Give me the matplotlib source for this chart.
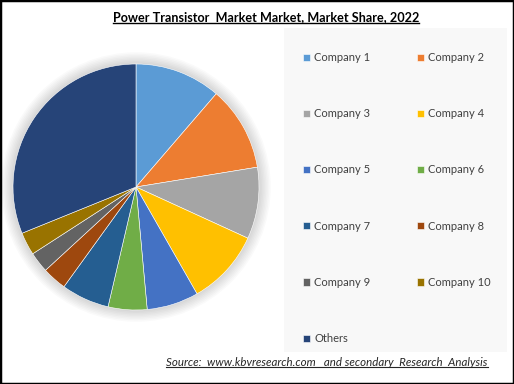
import numpy as np
import matplotlib.pyplot as plt
from matplotlib.patches import Rectangle, Circle
from matplotlib.lines import Line2D

plt.rcParams['font.family'] = ['Lato', 'DejaVu Sans']

# -------------------------------
# Data (%)
companies = ['Company 1', 'Company 2', 'Company 3', 'Company 4', 'Company 5',
             'Company 6', 'Company 7', 'Company 8', 'Company 9', 'Company 10',
             'Others']
shares = [11.3, 11.1, 9.4, 9.9, 6.8, 5.1, 6.3, 3.2, 2.7, 3.0, 31.1]
colors = ['#5B9BD5', '#ED7D31', '#A5A5A5', '#FFC000', '#4472C4', '#70AD47',
          '#255E91', '#9E480E', '#636363', '#997300', '#264478']

title = 'Power Transistor  Market Market, Market Share, 2022'
source = 'Source:  www.kbvresearch.com   and secondary  Research  Analysis'

W, H = 514, 384
fig = plt.figure(figsize=(W / 100, H / 100), dpi=100)
fig.patch.set_facecolor('white')

# light gray legend area
fig.patches.append(Rectangle((284 / W, 1 - 352 / H), (507 - 284) / W, (352 - 28) / H,
                             transform=fig.transFigure, facecolor='#F8F8F8',
                             edgecolor='none', zorder=0))

# pie
cx, cy, r = 136, 187, 123
ax = fig.add_axes([(cx - r) / W, 1 - (cy + r) / H, 2 * r / W, 2 * r / H])
for i in range(8):
    ax.add_patch(Circle((0, 0), 1.0 + 0.012 * (i + 1), facecolor='#000000',
                        alpha=0.018, edgecolor='none', clip_on=False, zorder=0))
wedges, _ = ax.pie(shares, colors=colors, startangle=90, counterclock=False,
                   radius=1, wedgeprops=dict(edgecolor='white', linewidth=0.4))
ax.set_xlim(-1, 1)
ax.set_ylim(-1, 1)
ax.set_aspect('equal')
ax.axis('off')

# legend: row-major order in two columns
order = [0, 2, 4, 6, 8, 10, 1, 3, 5, 7, 9]
leg = fig.legend([wedges[i] for i in order], [companies[i] for i in order],
                 ncol=2, loc='upper left', bbox_to_anchor=(303 / W, 1 - 52 / H),
                 frameon=False, fontsize=8, handlelength=0.6, handleheight=0.6,
                 handletextpad=0.4, labelspacing=4.07, columnspacing=4.2,
                 borderpad=0, borderaxespad=0)
for t in leg.get_texts():
    t.set_color('#404040')

t1 = fig.text(266 / W, 1 - 17 / H, title, ha='center', va='center',
              fontsize=9.1, fontweight='bold', color='black')
t2 = fig.text(327 / W, 1 - 362 / H, source, ha='center', va='center',
              fontsize=8.3, style='italic', color='#262626')

# underline title and source
fig.canvas.draw()
rend = fig.canvas.get_renderer()
for t, lw in [(t1, 1.0), (t2, 0.8)]:
    bb = t.get_window_extent(rend)
    y = bb.y0 + 0.5
    fig.add_artist(Line2D([bb.x0 / W, bb.x1 / W], [y / H, y / H],
                          transform=fig.transFigure, color=t.get_color(), lw=lw))

# outer frame
fig.patches.append(Rectangle((0, 0), 1, 1, transform=fig.transFigure,
                             facecolor='none', edgecolor='black', lw=2.5, zorder=10))

fig.savefig('out.png', dpi=100)
